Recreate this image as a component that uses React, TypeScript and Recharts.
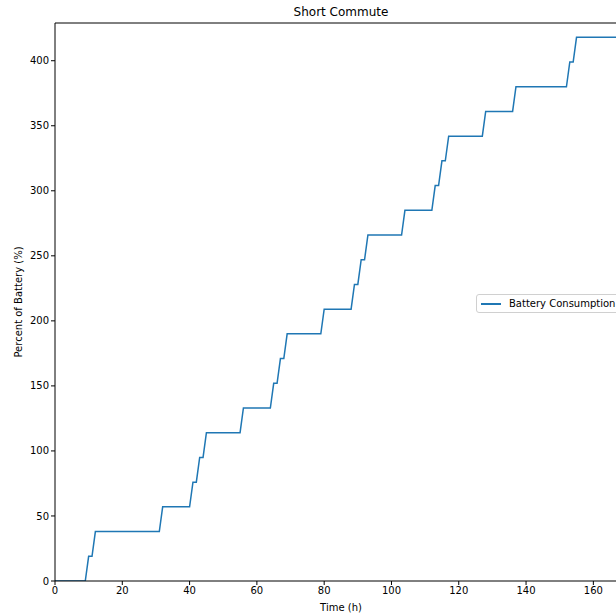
import { LineChart, Line, XAxis, YAxis, ReferenceLine } from 'recharts';

// corner points of the step curve (hours, % of battery)
const hours = [
  0, 9, 10, 11, 12, 31, 32, 40, 41, 42, 43, 44, 45, 55, 56, 64, 65, 66, 67, 68, 69, 79, 80,
  88, 89, 90, 91, 92, 93, 103, 104, 112, 113, 114, 115, 116, 117, 127, 128, 136, 137, 152,
  153, 154, 155, 168,
];
const consumption = [
  0, 0, 19, 19, 38, 38, 57, 57, 76, 76, 95, 95, 114, 114, 133, 133, 152, 152, 171, 171, 190,
  190, 209, 209, 228, 228, 247, 247, 266, 266, 285, 285, 304, 304, 323, 323, 342, 342, 361,
  361, 380, 380, 399, 399, 418, 418,
];
const xTicks = [0, 20, 40, 60, 80, 100, 120, 140, 160];
const yTicks = [0, 50, 100, 150, 200, 250, 300, 350, 400];

const data = hours.map((h, i) => ({ hour: h, value: consumption[i] }));

const font = '"DejaVu Sans", sans-serif';
const tickStyle = { fontSize: 10, fill: '#000', fontFamily: font };

function LegendBox() {
  return (
    <div
      style={{
        position: 'absolute',
        left: 476,
        top: 294,
        display: 'flex',
        alignItems: 'center',
        border: '1px solid #d0d0d0',
        borderRadius: 3,
        background: 'rgba(255,255,255,0.8)',
        height: 17,
        padding: '0 6px 0 4px',
        fontFamily: font,
        fontSize: 10,
        color: '#000',
        whiteSpace: 'nowrap',
      }}
    >
      <span style={{ display: 'inline-block', width: 20, height: 0, borderTop: '2px solid #1f77b4', marginRight: 8 }} />
      Battery Consumption
    </div>
  );
}

export default function App() {
  return (
    <div style={{ position: 'fixed', left: 0, top: 0, width: 616, height: 614, overflow: 'hidden', background: '#fff' }}>
      <div
        style={{
          position: 'absolute',
          left: 55,
          width: 572,
          top: 5,
          textAlign: 'center',
          fontFamily: font,
          fontSize: 12,
        }}
      >
        Short Commute
      </div>
      <LineChart width={700} height={614} data={data} margin={{ top: 23, right: 73, bottom: 0, left: 10 }}>
        <XAxis
          dataKey="hour"
          type="number"
          domain={[0, 170]}
          ticks={xTicks}
          allowDataOverflow
          height={33}
          tick={tickStyle}
          tickSize={4}
          tickLine={{ stroke: '#000' }}
          axisLine={{ stroke: '#000' }}
          label={{ value: 'Time (h)', position: 'insideBottom', offset: 3, style: { fontSize: 10, fill: '#000', fontFamily: font } }}
        />
        <YAxis
          type="number"
          domain={[0, 429]}
          ticks={yTicks}
          allowDataOverflow
          width={45}
          tick={tickStyle}
          tickSize={4}
          tickLine={{ stroke: '#000' }}
          axisLine={{ stroke: '#000' }}
          label={{
            value: 'Percent of Battery (%)',
            angle: -90,
            position: 'insideLeft',
            offset: 8,
            style: { fontSize: 10, fill: '#000', fontFamily: font, textAnchor: 'middle' },
          }}
        />
        <ReferenceLine y={429} stroke="#000" />
        <Line
          type="linear"
          dataKey="value"
          name="Battery Consumption"
          stroke="#1f77b4"
          strokeWidth={1.5}
          dot={false}
          isAnimationActive={false}
        />
      </LineChart>
      <LegendBox />
    </div>
  );
}
